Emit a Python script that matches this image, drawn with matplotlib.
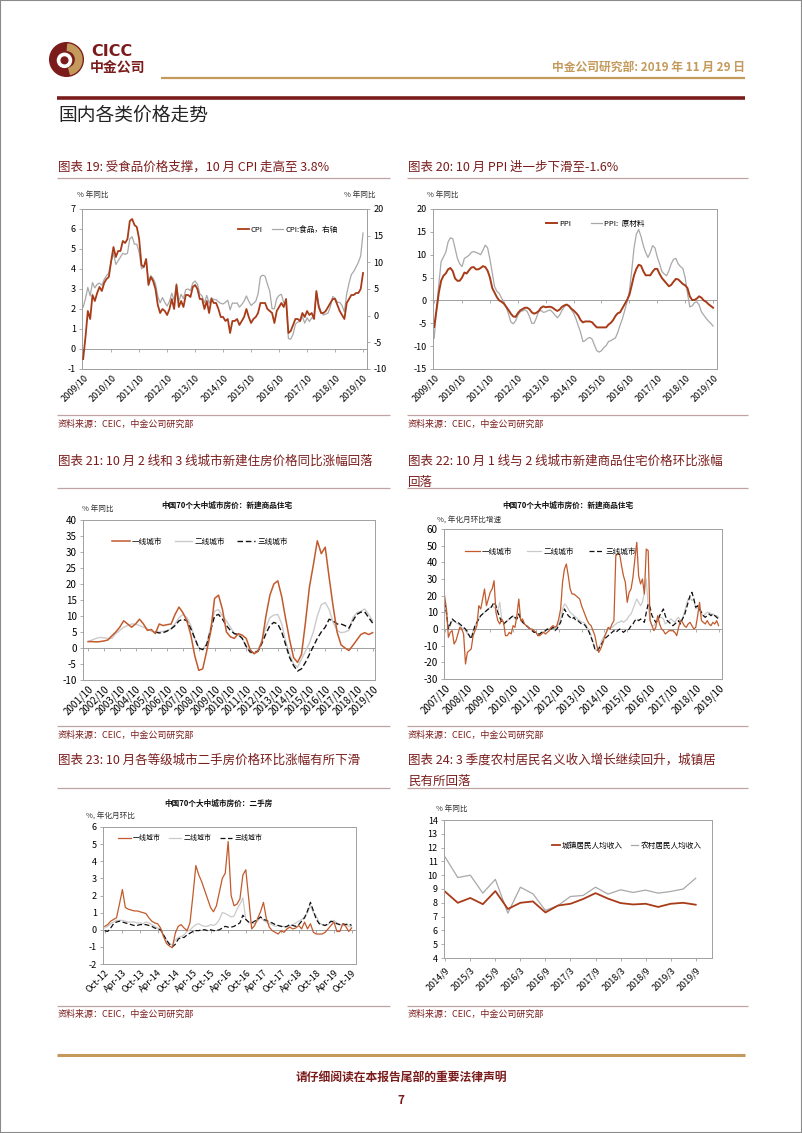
import matplotlib
matplotlib.use("Agg")
import matplotlib.pyplot as plt
from matplotlib.lines import Line2D
from matplotlib.patches import Rectangle, Circle, Wedge
import numpy as np

plt.rcParams['font.family'] = ['Noto Sans CJK SC', 'DejaVu Sans']
plt.rcParams['axes.unicode_minus'] = False

nan = float('nan')

# ---------------- data ----------------
# 图表19: CPI / 食品CPI, 2009/10 - 2019/10 月度
cpi = [-0.5, 0.6, 1.9,
       1.5, 2.7, 2.4, 2.8, 3.1, 2.9, 3.3, 3.5, 3.6, 4.4, 5.1, 4.6,
       4.9, 4.9, 5.4, 5.3, 5.5, 6.4, 6.5, 6.2, 6.1, 5.5, 4.2, 4.1,
       4.5, 3.2, 3.6, 3.4, 3.0, 2.2, 1.8, 2.0, 1.9, 1.7, 2.0, 2.5,
       2.0, 3.2, 2.1, 2.4, 2.1, 2.7, 2.7, 2.6, 3.1, 3.2, 3.0, 2.5,
       2.5, 2.0, 2.4, 1.8, 2.5, 2.3, 2.3, 2.0, 1.6, 1.6, 1.4, 1.5,
       0.8, 1.4, 1.4, 1.5, 1.2, 1.4, 1.6, 2.0, 1.6, 1.3, 1.5, 1.6,
       1.8, 2.3, 2.3, 2.3, 2.0, 1.9, 1.8, 1.3, 1.9, 2.1, 2.3, 2.1,
       2.5, 0.8, 0.9, 1.2, 1.5, 1.5, 1.4, 1.8, 1.6, 1.9, 1.7, 1.8,
       1.5, 2.9, 2.1, 1.8, 1.8, 1.9, 2.1, 2.3, 2.5, 2.5, 2.2, 1.9,
       1.7, 1.5, 2.3, 2.5, 2.7, 2.7, 2.8, 2.8, 3.0, 3.8]
cpi_food = [1.6, 3.2, 5.3,
            3.7, 6.2, 5.2, 5.9, 6.1, 5.7, 6.8, 7.5, 8.0, 10.1, 11.7, 9.6,
            10.3, 11.0, 11.7, 11.5, 11.7, 14.4, 14.8, 13.4, 13.4, 11.9, 8.8, 9.1,
            10.5, 6.2, 7.5, 7.0, 6.0, 3.6, 2.4, 3.4, 2.5, 1.8, 2.7, 4.2,
            2.9, 6.0, 2.7, 4.0, 3.2, 4.9, 5.0, 4.7, 6.1, 6.5, 5.9, 4.1,
            3.7, 2.4, 3.8, 2.3, 3.4, 3.0, 3.0, 2.6, 2.3, 2.2, 2.5, 2.9,
            1.1, 2.4, 2.3, 2.4, 1.6, 2.1, 2.7, 3.7, 2.7, 1.9, 2.3, 2.7,
            4.1, 7.3, 7.6, 7.4, 5.9, 4.6, 1.3, 1.3, 3.2, 3.8, 4.0, 2.4,
            2.7, -4.3, -4.4, -3.5, -1.6, -1.2, -1.1, -0.2, -1.4, -0.4, -1.1, -0.4,
            -0.5, 4.4, 2.1, 0.7, 0.1, 0.3, 0.5, 1.7, 3.6, 3.3, 2.5, 2.5,
            1.9, 0.7, 4.1, 6.1, 7.7, 8.3, 9.1, 10.0, 11.2, 15.5]

# 图表20: PPI / PPI原材料
ppi = [-5.8, -2.1, 1.7,
       4.3, 5.4, 5.9, 6.8, 7.1, 6.4, 4.8, 4.3, 4.3, 5.0, 6.1, 5.9,
       6.6, 7.2, 7.3, 6.8, 6.8, 7.1, 7.5, 7.3, 6.5, 5.0, 2.7, 1.7,
       0.7, 0.0, -0.3, -0.7, -1.4, -2.1, -2.9, -3.5, -3.6, -2.8, -2.2, -1.9,
       -1.6, -1.6, -1.9, -2.6, -2.9, -2.7, -2.3, -1.6, -1.3, -1.5, -1.4, -1.4,
       -1.6, -2.0, -2.3, -2.0, -1.4, -1.1, -0.9, -1.2, -1.8, -2.2, -2.7, -3.3,
       -4.3, -4.8, -4.6, -4.6, -4.6, -4.8, -5.4, -5.9, -5.9, -5.9, -5.9, -5.9,
       -5.3, -4.9, -4.3, -3.4, -2.8, -2.6, -1.7, -0.8, 0.1, 1.2, 3.3, 5.5,
       6.9, 7.8, 7.6, 6.4, 5.5, 5.5, 5.5, 6.3, 6.9, 6.9, 5.8, 4.9,
       4.3, 3.7, 3.1, 3.4, 4.1, 4.7, 4.6, 4.1, 3.6, 3.3, 2.7, 0.9,
       0.1, 0.1, 0.4, 0.9, 0.6, 0.0, -0.3, -0.8, -1.2, -1.6]
ppi_raw = [-8.3, -2.0, 3.5,
           8.5, 9.5, 10.5, 12.8, 13.7, 13.5, 11.4, 9.2, 8.0, 7.4, 9.2, 9.5,
           9.9, 10.5, 10.7, 10.5, 10.3, 10.0, 11.0, 12.1, 11.5, 9.0, 6.0, 3.0,
           2.0, 1.5, 0.5, -0.3, -1.5, -3.0, -4.7, -5.1, -4.5, -3.3, -2.5, -2.3,
           -2.0, -2.4, -3.5, -5.0, -5.0, -3.8, -2.4, -2.2, -2.6, -2.5, -2.2, -2.1,
           -2.6, -3.2, -3.8, -3.2, -2.2, -1.4, -0.9, -1.3, -2.0, -2.8, -4.0, -5.5,
           -7.0, -9.0, -8.8, -8.3, -8.1, -8.5, -9.8, -11.0, -11.3, -11.0, -10.3, -9.9,
           -9.0, -8.8, -8.5, -8.2, -7.0, -5.4, -4.0, -2.2, -0.3, 2.0, 6.5, 11.5,
           14.5, 15.5, 14.0, 12.0, 10.5, 9.4, 10.5, 12.0, 11.5, 9.5, 8.0, 6.3,
           5.8, 5.4, 6.5, 8.0, 9.0, 9.2, 8.0, 7.4, 7.0, 5.0, 1.5, -1.4,
           -1.2, -0.5, -0.3, -1.0, -2.5, -3.2, -3.9, -4.5, -5.0, -5.6]
labels_0919 = ['2009/10', '2010/10', '2011/10', '2012/10', '2013/10', '2014/10',
               '2015/10', '2016/10', '2017/10', '2018/10', '2019/10']

# 图表21: 新建商品住宅同比, 2001/10 - 2019/10 季度
t1_21 = [2.0, 2.0, 1.9, 2.0, 2.2, 2.5, 3.8, 5.0, 6.5, 8.5, 7.5, 6.5, 7.5,
         9.0, 7.5, 5.5, 5.8, 4.5, 7.5, 7.0, 7.3, 7.5, 10.5, 12.8, 11.0,
         8.5, 4.0, -2.5, -7.0, -6.5, -1.0, 5.0, 15.5, 16.5, 12.0, 5.0, 3.5,
         3.0, 4.5, 4.0, 3.0, -0.5, -1.8, -1.0, 2.0, 10.0, 16.5, 20.0, 21.0,
         16.0, 9.0, 2.5, -3.0, -4.5, -2.0, 8.0, 19.0, 26.0, 33.5, 29.5, 31.5,
         22.0, 13.0, 5.0, 1.0, 0.0, -0.8, 0.8, 2.5, 4.2, 4.8, 4.2, 4.8]
t2_21 = [2.0, 2.5, 3.0, 3.3, 3.2, 3.0, 3.0, 4.5, 5.5, 6.5, 7.0, 7.5, 7.5,
         7.0, 6.5, 6.0, 5.2, 5.0, 5.0, 5.2, 5.5, 6.0, 7.5, 9.5, 10.5,
         9.5, 7.0, 3.0, 0.0, -0.5, 1.5, 6.5, 11.5, 12.0, 10.0, 8.5, 6.5,
         4.5, 4.0, 3.0, 0.5, -1.5, -1.5, -0.5, 2.5, 6.5, 9.5, 10.3, 10.5,
         7.5, 2.0, -2.0, -5.0, -6.0, -3.5, -1.0, 1.5, 5.0, 10.0, 13.5, 14.2,
         12.0, 8.0, 5.5, 4.8, 5.0, 5.5, 9.5, 11.0, 11.5, 12.2, 10.5, 8.5]
t3_21 = [nan, nan, nan, nan, nan, nan, nan, nan, nan, nan, nan, nan, nan,
         nan, nan, nan, nan, 5.0, 4.7, 4.8, 5.3, 6.0, 7.0, 8.5, 9.0,
         8.5, 6.0, 3.0, 0.0, -0.5, 1.0, 5.5, 10.0, 10.5, 9.0, 7.0, 5.5,
         4.5, 4.2, 3.0, 0.5, -1.2, -1.5, -1.0, 1.5, 4.5, 7.0, 8.0, 7.5,
         5.0, 1.0, -3.0, -5.5, -7.2, -6.5, -4.5, -2.0, 0.5, 3.0, 5.0, 6.5,
         9.0, 8.5, 7.5, 7.5, 7.0, 6.2, 8.5, 10.5, 11.2, 11.3, 9.5, 7.8]
labels_0119 = ['2001/10', '2002/10', '2003/10', '2004/10', '2005/10', '2006/10',
               '2007/10', '2008/10', '2009/10', '2010/10', '2011/10', '2012/10',
               '2013/10', '2014/10', '2015/10', '2016/10', '2017/10', '2018/10',
               '2019/10']

# 图表22: 新建商品住宅年化月环比, 2007/10 - 2019/10 月度
t1_22 = [20, 12, -5, -2, -1, -9, -7, -3, 1, 0, -3, -21,
         -14, -13, -12, -4, -1, 2, 14, 12, 18, 24, 14, 18,
         22, 24, 29, 10, 5, 3, 6, 4, -4, -4, -2, -3,
         2, 1, 8, 18, 5, 6, 3, 2, 1, 0, 0, -1,
         -2, -4, -4, -3, -2, -3, -2, -1, 1, 2, 1, 2,
         6, 12, 28, 36, 39, 32, 24, 21, 21, 20, 19, 18,
         14, 11, 8, 5, 3, 2, -1, -4, -10, -14, -12, -9,
         -5, -2, 1, 0, 3, 5, 44, 45, 45, 38, 32, 28,
         16, 22, 24, 31, 42, 52, 32, 27, 30, 21, 48, 47,
         5, 2, -1, 1, 8, 3, 0, -1, -3, -2, -1, -1,
         -1, -2, -4, 1, 5, 4, 2, 1, 3, 4, 2, 0,
         1, 8, 16, 5, 4, 3, 5, 3, 2, 4, 3, 5, 2]
t2_22 = [15, 8, 0, 2, 5, 5, 4, 3, 2, 1, 0, -1,
         -3, -4, -5, -1, 2, 4, 6, 8, 9, 10, 11, 12,
         13, 14, 13, 12, 11, 16, 6, 3, 4, 5, 6, 7,
         8, 6, 6, 9, 6, 4, 3, 2, 1, 0, -1, -2,
         -2, -3, -3, -2, -2, -1, 0, 0, 1, 1, 0, 1,
         3, 6, 12, 15, 14, 12, 10, 9, 8, 7, 6, 5,
         4, 4, 3, 1, -1, -4, -8, -12, -13, -11, -9, -6,
         -4, -2, 0, 1, 1, 2, 3, 4, 4, 5, 4, 5,
         6, 8, 9, 12, 15, 18, 16, 14, 16, 22, 30, 14,
         5, 2, 2, 4, 6, 7, 7, 6, 3, 4, 5, 6,
         5, 4, 6, 7, 5, 6, 10, 14, 18, 19, 17, 18,
         12, 13, 11, 9, 8, 9, 10, 10, 9, 9, 8, 8, 7]
t3_22 = [16, 10, 0, 3, 6, 5, 4, 4, 3, 2, 1, 0,
         -2, -4, -6, -2, 2, 4, 6, 8, 9, 10, 11, 12,
         12, 14, 16, 14, 10, 7, 4, 3, 4, 5, 6, 7,
         8, 7, 6, 9, 6, 4, 3, 2, 1, 0, -1, -2,
         -2, -3, -3, -2, -2, -1, 0, -1, 0, 1, -1, 0,
         2, 4, 8, 12, 10, 8, 7, 6, 7, 5, 5, 4,
         3, 3, 2, 0, -2, -5, -8, -12, -13, -12, -10, -8,
         -6, -5, -4, -3, -2, -1, -2, -1, 0, -1, -2, -1,
         -1, 0, 2, 3, 5, 6, 5, 6, 5, 4, 10, 15,
         13, 8, 6, 4, 5, 8, 10, 12, 8, 5, 4, 3,
         2, 3, 4, 5, 3, 6, 8, 12, 16, 20, 22, 18,
         13, 14, 12, 10, 8, 7, 8, 9, 8, 9, 8, 7, 6]
labels_0719 = ['2007/10', '2008/10', '2009/10', '2010/10', '2011/10', '2012/10',
               '2013/10', '2014/10', '2015/10', '2016/10', '2017/10', '2018/10',
               '2019/10']

# 图表23: 二手房年化月环比, Oct-12 - Oct-19 月度
t1_23 = [0.2, 0.3, 0.5, 0.6, 0.7, 1.5, 2.35, 1.3, 1.2, 1.15, 1.1, 1.1,
         1.05, 1.0, 0.95, 0.7, 0.5, 0.4, 0.35, 0.1, -0.4, -0.8, -0.95, -1.05,
         -0.2, 0.2, 0.3, 0.1, -0.05, 0.4, 2.0, 3.75, 3.2, 2.8, 2.3, 1.8,
         1.3, 1.05, 1.4, 2.2, 3.0, 3.3, 5.15, 2.0, 1.4, 1.5, 1.8, 3.2,
         3.5, 1.8, 0.05, 0.25, 0.65, 1.05, 1.6, 0.65, 0.15, -0.05, -0.15, -0.25,
         -0.05, -0.15, 0.05, 0.15, 0.05, 0.1, 0.25, 0.05, 0.45, 0.05, 0.35, -0.15,
         -0.25, -0.25, -0.25, -0.15, 0.05, 0.25, 0.45, -0.1, -0.1, 0.35, 0.2, -0.1, 0.1]
t2_23 = [0.1, 0.2, 0.35, 0.45, 0.55, 0.55, 0.55, 0.5, 0.45, 0.45, 0.45, 0.4,
         0.4, 0.35, 0.45, 0.4, 0.3, 0.2, 0.1, 0.0, -0.3, -0.6, -0.8, -0.9,
         -0.6, -0.45, -0.4, -0.3, -0.1, 0.0, 0.15, 0.3, 0.35, 0.25, 0.2, 0.2,
         0.3, 0.25, 0.35, 0.6, 1.0, 0.95, 0.85, 0.75, 0.8, 1.2, 1.5, 1.85,
         0.6, 0.4, 0.4, 0.35, 0.5, 0.75, 0.55, 0.45, 0.35, 0.3, 0.2, 0.25,
         0.2, 0.2, 0.15, 0.2, 0.3, 0.4, 0.5, 0.6, 0.75, 1.0, 1.4, 1.0,
         0.8, 0.4, 0.3, 0.25, 0.3, 0.45, 0.55, 0.4, 0.3, 0.25, 0.3, 0.2, 0.15]
t3_23 = [-0.05, -0.1, 0.1, 0.35, 0.45, 0.5, 0.45, 0.4, 0.35, 0.3, 0.25, 0.25,
         0.3, 0.3, 0.3, 0.25, 0.2, 0.1, 0.05, 0.0, -0.3, -0.6, -0.85, -1.0,
         -0.85, -0.55, -0.45, -0.45, -0.3, -0.2, -0.1, -0.05, -0.05, 0.0, 0.0, -0.05,
         0.0, -0.05, -0.05, 0.0, 0.1, 0.2, 0.15, 0.15, 0.2, 0.3, 0.4, 0.85,
         0.6, 0.45, 0.4, 0.5, 0.6, 0.75, 0.6, 0.55, 0.45, 0.4, 0.3, 0.25,
         0.2, 0.15, 0.2, 0.3, 0.25, 0.2, 0.3, 0.5, 0.7, 1.1, 1.6, 1.1,
         0.6, 0.35, 0.3, 0.25, 0.35, 0.5, 0.45, 0.35, 0.3, 0.35, 0.3, 0.35, 0.25]
labels_1219 = ['Oct-12', 'Apr-13', 'Oct-13', 'Apr-14', 'Oct-14', 'Apr-15',
               'Oct-15', 'Apr-16', 'Oct-16', 'Apr-17', 'Oct-17', 'Apr-18',
               'Oct-18', 'Apr-19', 'Oct-19']

# 图表24: 城镇/农村居民人均收入同比, 2014/9 - 2019/9 季度
urban_inc = [8.8, 8.0, 8.35, 7.9, 8.85, 7.55, 8.0, 8.1, 7.3, 7.8, 7.93,
             8.27, 8.7, 8.3, 7.98, 7.88, 7.93, 7.7, 7.93, 8.0, 7.86]
rural_inc = [11.3, 9.83, 10.0, 8.7, 9.7, 7.25, 9.13, 8.65, 7.45, 7.8, 8.46,
             8.53, 9.13, 8.63, 8.94, 8.75, 8.92, 8.7, 8.82, 9.0, 9.78]
labels_1419 = ['2014/9', '2015/3', '2015/9', '2016/3', '2016/9', '2017/3',
               '2017/9', '2018/3', '2018/9', '2019/3', '2019/9']

# ---------------- page ----------------
W, H = 802, 1133
MAROON = '#7B1C1C'
GOLD = '#C39A5C'
AXC = '#A0A0A0'
RED = '#A83B18'
ORANGE = '#C25A2C'
GREY = '#A8A8A8'
LGREY = '#CACACA'
RULE = '#C0A4A4'

fig = plt.figure(figsize=(W / 100, H / 100), dpi=100)


def px_box(l, t, r, b):
    return [l / W, 1 - b / H, (r - l) / W, (b - t) / H]


def ptext(x, y, s, **kw):
    kw.setdefault('va', 'center')
    fig.text(x / W, 1 - y / H, s, **kw)


def pline(x0, x1, y, color, lw):
    fig.add_artist(Line2D([x0 / W, x1 / W], [1 - y / H, 1 - y / H],
                          color=color, lw=lw, solid_capstyle='butt'))


def make_axes(box, ylim, ystep, xlim, xticks, xlabels, zero=True, fs=6.5):
    ax = fig.add_axes(px_box(*box))
    ax.set_xlim(*xlim)
    ax.set_ylim(*ylim)
    ax.set_yticks(np.arange(ylim[0], ylim[1] + ystep / 2, ystep))
    ax.set_xticks(xticks)
    ax.set_xticklabels(xlabels, rotation=45, ha='right',
                       rotation_mode='anchor', fontsize=fs)
    for s in ax.spines.values():
        s.set_color(AXC)
        s.set_linewidth(0.7)
    ax.tick_params(axis='y', direction='out', length=2.5, width=0.6,
                   color=AXC, labelsize=fs, pad=2)
    ax.tick_params(axis='x', length=0 if zero else 2.5, width=0.6,
                   color=AXC, pad=3)
    if zero:
        ax.axhline(0, color=AXC, lw=0.7, zorder=1)
        frac = (0 - ylim[0]) / (ylim[1] - ylim[0])
        sec = ax.secondary_xaxis(frac)
        sec.set_xticks(xticks)
        sec.tick_params(axis='x', length=2.5, width=0.6, color=AXC,
                        labelbottom=False, labeltop=False)
        for s in sec.spines.values():
            s.set_visible(False)
    return ax


def legend_at(ax, box, x, y, handles, labels, fs, hl, cs):
    l, t, r, b = box
    leg = ax.legend(handles, labels, ncol=len(labels), loc='center left',
                    bbox_to_anchor=((x - l) / (r - l), (b - y) / (b - t)),
                    frameon=False, fontsize=fs, handlelength=hl,
                    handletextpad=0.3, columnspacing=cs, borderpad=0,
                    borderaxespad=0)
    return leg


# page border
fig.add_artist(Rectangle((0, 0), 1, 1, transform=fig.transFigure, fill=False,
                         ec='#8A8A8A', lw=1.5))

# logo
lax = fig.add_axes(px_box(47, 41, 86, 78))
lax.set_xlim(-1.1, 1.1)
lax.set_ylim(-1.1, 1.1)
lax.set_aspect('equal')
lax.axis('off')
lax.add_patch(Circle((0, 0), 1.0, color=MAROON))
lax.add_patch(Wedge((0, 0), 0.92, -75, 85, width=0.38, color=GOLD))
lax.add_patch(Circle((-0.12, -0.05), 0.42, color='white'))
lax.add_patch(Circle((-0.12, -0.05), 0.2, color=MAROON))
ptext(91, 52, 'CICC', fontsize=11.5, fontweight='bold', color=MAROON,
      family=['DejaVu Sans'])
ptext(90, 67.5, '中金公司', fontsize=10, fontweight='bold', color=MAROON)

ptext(745, 67, '中金公司研究部: 2019 年 11 月 29 日', fontsize=8.5,
      fontweight='bold', color=GOLD, ha='right')
pline(161, 745, 77.5, GOLD, 1.6)
pline(57, 745, 97.5, MAROON, 2.6)
ptext(58, 115, '国内各类价格走势', fontsize=13.5, color='#222222')

# chart titles, rules and sources
ptext(58, 167, '图表 19: 受食品价格支撑，10 月 CPI 走高至 3.8%', fontsize=9,
      color=MAROON)
ptext(408, 167, '图表 20: 10 月 PPI 进一步下滑至-1.6%', fontsize=9, color=MAROON)
ptext(58, 461, '图表 21: 10 月 2 线和 3 线城市新建住房价格同比涨幅回落',
      fontsize=9, color=MAROON)
ptext(408, 461, '图表 22: 10 月 1 线与 2 线城市新建商品住宅价格环比涨幅',
      fontsize=9, color=MAROON)
ptext(408, 482, '回落', fontsize=9, color=MAROON)
ptext(58, 760, '图表 23: 10 月各等级城市二手房价格环比涨幅有所下滑',
      fontsize=9, color=MAROON)
ptext(408, 760, '图表 24: 3 季度农村居民名义收入增长继续回升，城镇居',
      fontsize=9, color=MAROON)
ptext(408, 781, '民有所回落', fontsize=9, color=MAROON)

for y in (178, 488, 788):
    pline(57, 390, y, RULE, 0.9)
    pline(407, 748, y, RULE, 0.9)
for y_line, y_txt in ((415, 424), (726, 735), (1006, 1014)):
    pline(57, 390, y_line, RULE, 0.9)
    pline(407, 748, y_line, RULE, 0.9)
    ptext(58, y_txt, '资料来源：CEIC，中金公司研究部', fontsize=6.5, color=MAROON)
    ptext(408, y_txt, '资料来源：CEIC，中金公司研究部', fontsize=6.5, color=MAROON)

# footer
pline(57, 745, 1055, GOLD, 2.2)
ptext(401, 1078, '请仔细阅读在本报告尾部的重要法律声明', fontsize=8.5,
      fontweight='bold', color=MAROON, ha='center')
ptext(401, 1101, '7', fontsize=8.5, fontweight='bold', color=MAROON, ha='center')

# ---------------- 图表19 ----------------
box19 = (82, 209, 367, 369)
ax = make_axes(box19, (-1, 7), 1, (-0.5, 121.7), np.arange(0, 121, 12),
               labels_0919, zero=True)
ax2 = ax.twinx()
ax2.set_ylim(-10, 20)
ax2.set_yticks(np.arange(-10, 21, 5))
ax2.tick_params(axis='y', direction='out', length=2.5, width=0.6, color=AXC,
                labelsize=6.5, pad=2)
for s in ax2.spines.values():
    s.set_color(AXC)
    s.set_linewidth(0.7)
x19 = np.arange(len(cpi))
h1, = ax.plot(x19, cpi, color=RED, lw=1.3, zorder=3)
h2, = ax2.plot(x19, cpi_food, color=GREY, lw=0.9)
ax.set_zorder(ax2.get_zorder() + 1)
ax.patch.set_visible(False)
legend_at(ax, box19, 238, 230, [h1, h2], ['CPI', 'CPI:食品，右轴'], 5.5, 1.4, 1.2)
ptext(77, 195, '% 年同比', fontsize=5.5, color='#333333')
ptext(344, 195, '% 年同比', fontsize=5.5, color='#333333')

# ---------------- 图表20 ----------------
box20 = (433, 209, 717, 369)
ax = make_axes(box20, (-15, 20), 5, (-0.5, 121.7), np.arange(0, 121, 12),
               labels_0919, zero=True)
x20 = np.arange(len(ppi))
h2, = ax.plot(x20, ppi_raw, color=GREY, lw=0.9)
h1, = ax.plot(x20, ppi, color=RED, lw=1.4)
legend_at(ax, box20, 546, 224, [h1, h2], ['PPI', 'PPI:  原材料'], 5.5, 1.4, 2.6)
ptext(427, 195, '% 年同比', fontsize=5.5, color='#333333')

# ---------------- 图表21 ----------------
box21 = (83, 520, 375, 680)
ax = make_axes(box21, (-10, 40), 5, (-1.3, 72.6), np.arange(0, 73, 4),
               labels_0119, zero=True, fs=7)
x21 = np.arange(len(t1_21))
h2, = ax.plot(x21, t2_21, color=LGREY, lw=1.0)
h3, = ax.plot(x21, t3_21, color='#111111', lw=1.0, dashes=(4, 2))
h1, = ax.plot(x21, t1_21, color=ORANGE, lw=1.1)
legend_at(ax, box21, 112, 542, [h1, h2, h3], ['一线城市', '二线城市', '三线城市'],
          5.5, 2.3, 1.6)
ptext(82, 509, '% 年同比', fontsize=5.5, color='#333333')
ptext(227, 505, '中国70个大中城市房价：新建商品住宅', fontsize=5.5,
      fontweight='bold', color='#111111', ha='center')

# ---------------- 图表22 ----------------
box22 = (444, 529, 722, 679)
ax = make_axes(box22, (-30, 60), 10, (-0.3, 145.8), np.arange(0, 145, 12),
               labels_0719, zero=True, fs=7)
x22 = np.arange(len(t1_22))
h2, = ax.plot(x22, t2_22, color=LGREY, lw=0.9)
h3, = ax.plot(x22, t3_22, color='#111111', lw=0.9, dashes=(4, 2))
h1, = ax.plot(x22, t1_22, color=ORANGE, lw=0.9)
legend_at(ax, box22, 465, 552, [h1, h2, h3], ['一线城市', '二线城市', '三线城市'],
          5.5, 1.9, 1.9)
ptext(437, 521, '%, 年化月环比增速', fontsize=5.5, color='#333333')
ptext(568, 505, '中国70个大中城市房价：新建商品住宅', fontsize=5.5,
      fontweight='bold', color='#111111', ha='center')

# ---------------- 图表23 ----------------
box23 = (103, 827, 356, 964)
ax = make_axes(box23, (-2, 6), 1, (-0.6, 85.5), np.arange(0, 85, 6),
               labels_1219, zero=True, fs=6.5)
x23 = np.arange(len(t1_23))
h2, = ax.plot(x23, t2_23, color=LGREY, lw=0.9)
h3, = ax.plot(x23, t3_23, color='#111111', lw=0.9, dashes=(4, 2))
h1, = ax.plot(x23, t1_23, color=ORANGE, lw=0.9)
legend_at(ax, box23, 118, 838, [h1, h2, h3], ['一线城市', '二线城市', '三线城市'],
          5.0, 1.8, 1.2)
ptext(86, 817, '%, 年化月环比', fontsize=5.5, color='#333333')
ptext(218, 803, '中国70个大中城市房价：二手房', fontsize=5.5,
      fontweight='bold', color='#111111', ha='center')

# ---------------- 图表24 ----------------
box24 = (444, 820, 712, 958)
ax = make_axes(box24, (4, 14), 1, (-0.1, 21.3), np.arange(0, 21, 2),
               labels_1419, zero=False, fs=6.5)
x24 = np.arange(len(urban_inc))
h2, = ax.plot(x24, rural_inc, color=GREY, lw=0.9)
h1, = ax.plot(x24, urban_inc, color=RED, lw=1.3)
legend_at(ax, box24, 552, 846, [h1, h2], ['城镇居民人均收入', '农村居民人均收入'],
          5.5, 1.0, 1.0)
ptext(436, 809, '% 年同比', fontsize=5.5, color='#333333')

fig.savefig('out.png', dpi=100)
